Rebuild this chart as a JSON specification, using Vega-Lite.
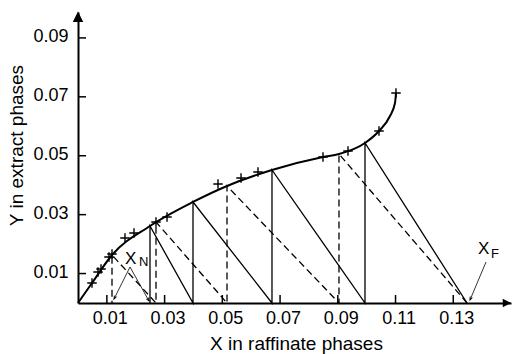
{
  "$schema": "https://vega.github.io/schema/vega-lite/v6.json",
  "width": 433,
  "height": 291,
  "autosize": {"type": "none"},
  "padding": {"left": 78, "top": 12, "right": 1, "bottom": 51},
  "background": "white",
  "config": {
    "view": {"stroke": null},
    "font": "Liberation Sans",
    "axis": {
      "grid": false,
      "ticks": false,
      "domainColor": "black",
      "domainWidth": 2,
      "labelColor": "black",
      "labelFont": "Liberation Sans",
      "labelFontSize": 18,
      "labelFlush": false,
      "titleColor": "black",
      "titleFont": "Liberation Sans",
      "titleFontSize": 19,
      "titleFontWeight": "normal"
    }
  },
  "datasets": {
    "curve": [
      {"x": 0, "y": 0},
      {"x": 0.00485, "y": 0.00679},
      {"x": 0.01178, "y": 0.0163},
      {"x": 0.02494, "y": 0.02615},
      {"x": 0.03984, "y": 0.0343},
      {"x": 0.05162, "y": 0.03973},
      {"x": 0.0672, "y": 0.04516},
      {"x": 0.08487, "y": 0.04958},
      {"x": 0.09041, "y": 0.05059},
      {"x": 0.09942, "y": 0.05433},
      {"x": 0.10427, "y": 0.0584},
      {"x": 0.10808, "y": 0.0635},
      {"x": 0.10981, "y": 0.06791},
      {"x": 0.11016, "y": 0.07131}
    ],
    "pts": [
      {"x": 0.00485, "y": 0.00679},
      {"x": 0.00693, "y": 0.01053},
      {"x": 0.00797, "y": 0.01154},
      {"x": 0.01074, "y": 0.01562},
      {"x": 0.01178, "y": 0.01664},
      {"x": 0.01628, "y": 0.02207},
      {"x": 0.0194, "y": 0.02377},
      {"x": 0.02702, "y": 0.0275},
      {"x": 0.03083, "y": 0.0292},
      {"x": 0.0485, "y": 0.04041},
      {"x": 0.05647, "y": 0.04244},
      {"x": 0.06235, "y": 0.04448},
      {"x": 0.08487, "y": 0.04958},
      {"x": 0.09353, "y": 0.05161},
      {"x": 0.10427, "y": 0.0584},
      {"x": 0.11016, "y": 0.07131}
    ],
    "solid": [
      {"o": 0, "x": 0.13476, "y": 0},
      {"o": 1, "x": 0.09942, "y": 0.05433},
      {"o": 2, "x": 0.09942, "y": 0},
      {"o": 3, "x": 0.0672, "y": 0.04516},
      {"o": 4, "x": 0.0672, "y": 0},
      {"o": 5, "x": 0.03984, "y": 0.0343},
      {"o": 6, "x": 0.03984, "y": 0},
      {"o": 7, "x": 0.02494, "y": 0.02615},
      {"o": 8, "x": 0.02494, "y": 0}
    ],
    "dashed": [
      {"o": 0, "x": 0.13476, "y": 0},
      {"o": 1, "x": 0.09041, "y": 0.05059},
      {"o": 2, "x": 0.09041, "y": 0},
      {"o": 3, "x": 0.05162, "y": 0.03973},
      {"o": 4, "x": 0.05162, "y": 0},
      {"o": 5, "x": 0.02702, "y": 0.0275},
      {"o": 6, "x": 0.02702, "y": 0},
      {"o": 7, "x": 0.01178, "y": 0.0163},
      {"o": 8, "x": 0.01178, "y": 0}
    ],
    "arrows": [
      {"name": "n1", "x": 0.01801, "y": 0.01222, "x2": 0.01247, "y2": 0.00136},
      {"name": "n2", "x": 0.01801, "y": 0.01222, "x2": 0.0246, "y2": 0.00068},
      {"name": "f", "x": 0.14134, "y": 0.01392, "x2": 0.1358, "y2": 0.00102}
    ],
    "labels": [
      {"t": "X", "x": 0.01628, "y": 0.01324},
      {"t": "X", "x": 0.13857, "y": 0.01664}
    ],
    "subs": [
      {"t": "N", "x": 0.02114, "y": 0.01256},
      {"t": "F", "x": 0.14307, "y": 0.01528}
    ],
    "xticks": [
      {"x": 0.01, "y": 0}, {"x": 0.03, "y": 0}, {"x": 0.05, "y": 0}, {"x": 0.07, "y": 0},
      {"x": 0.09, "y": 0}, {"x": 0.11, "y": 0}, {"x": 0.13, "y": 0}
    ],
    "yticks": [
      {"x": 0, "y": 0.01}, {"x": 0, "y": 0.03}, {"x": 0, "y": 0.05}, {"x": 0, "y": 0.07}, {"x": 0, "y": 0.09}
    ],
    "ytip": [{"x": 0, "y": 0.09715}],
    "xtip": [{"x": 0.1486, "y": 0}]
  },
  "encoding": {
    "x": {
      "field": "x",
      "type": "quantitative",
      "scale": {"domain": [0, 0.15], "nice": false, "zero": false},
      "axis": {
        "title": "X in raffinate phases",
        "values": [0.01, 0.03, 0.05, 0.07, 0.09, 0.11, 0.13],
        "format": ".2f",
        "labelPadding": 6,
        "labelOffset": 3,
        "titleX": 218,
        "titleY": 46,
        "titleAlign": "center",
        "titleBaseline": "alphabetic"
      }
    },
    "y": {
      "field": "y",
      "type": "quantitative",
      "scale": {"domain": [0, 0.0988], "nice": false, "zero": false},
      "axis": {
        "title": "Y in extract phases",
        "values": [0.01, 0.03, 0.05, 0.07, 0.09],
        "format": ".2f",
        "labelPadding": 10,
        "labelOffset": -1,
        "titleX": -56,
        "titleY": 133,
        "titleAngle": 270,
        "titleAlign": "center",
        "titleBaseline": "alphabetic"
      }
    }
  },
  "layer": [
    {
      "data": {"name": "curve"},
      "mark": {"type": "line", "interpolate": "monotone", "color": "black", "strokeWidth": 2}
    },
    {
      "data": {"name": "pts"},
      "mark": {"type": "point", "shape": "M-1,0H1M0,-1V1", "filled": false, "stroke": "black", "strokeWidth": 1.4, "size": 90, "opacity": 1}
    },
    {
      "data": {"name": "solid"},
      "mark": {"type": "line", "color": "black", "strokeWidth": 1.3},
      "encoding": {"order": {"field": "o", "type": "quantitative"}}
    },
    {
      "data": {"name": "dashed"},
      "mark": {"type": "line", "color": "black", "strokeWidth": 1.3, "strokeDash": [7, 4]},
      "encoding": {"order": {"field": "o", "type": "quantitative"}}
    },
    {
      "data": {"name": "xticks"},
      "mark": {"type": "tick", "orient": "vertical", "size": 8, "thickness": 1.5, "yOffset": -4, "color": "black", "opacity": 1}
    },
    {
      "data": {"name": "yticks"},
      "mark": {"type": "tick", "orient": "horizontal", "size": 8, "thickness": 1.5, "xOffset": 4, "color": "black", "opacity": 1}
    },
    {
      "data": {"name": "arrows"},
      "mark": {"type": "rule", "color": "black", "strokeWidth": 0.8},
      "encoding": {"x2": {"field": "x2"}, "y2": {"field": "y2"}}
    },
    {
      "data": {"name": "arrows"},
      "transform": [{"filter": "datum.name === 'n1'"}],
      "mark": {"type": "point", "shape": "M-0.6,1.6L0,0L0.6,1.6", "filled": false, "stroke": "black", "strokeWidth": 0.9, "size": 16, "angle": 206.6, "opacity": 1},
      "encoding": {"x": {"field": "x2", "type": "quantitative"}, "y": {"field": "y2", "type": "quantitative"}}
    },
    {
      "data": {"name": "arrows"},
      "transform": [{"filter": "datum.name === 'n2'"}],
      "mark": {"type": "point", "shape": "M-0.6,1.6L0,0L0.6,1.6", "filled": false, "stroke": "black", "strokeWidth": 0.9, "size": 16, "angle": 150.8, "opacity": 1},
      "encoding": {"x": {"field": "x2", "type": "quantitative"}, "y": {"field": "y2", "type": "quantitative"}}
    },
    {
      "data": {"name": "arrows"},
      "transform": [{"filter": "datum.name === 'f'"}],
      "mark": {"type": "point", "shape": "M-0.6,1.6L0,0L0.6,1.6", "filled": false, "stroke": "black", "strokeWidth": 0.9, "size": 16, "angle": 202.8, "opacity": 1},
      "encoding": {"x": {"field": "x2", "type": "quantitative"}, "y": {"field": "y2", "type": "quantitative"}}
    },
    {
      "data": {"name": "labels"},
      "mark": {"type": "text", "align": "left", "baseline": "alphabetic", "fontSize": 17, "font": "Liberation Sans", "color": "black"},
      "encoding": {"text": {"field": "t"}}
    },
    {
      "data": {"name": "subs"},
      "mark": {"type": "text", "align": "left", "baseline": "alphabetic", "fontSize": 13, "font": "Liberation Sans", "color": "black"},
      "encoding": {"text": {"field": "t"}}
    },
    {
      "data": {"name": "ytip"},
      "mark": {"type": "point", "shape": "M0,-1L1,1L-1,1Z", "filled": true, "color": "black", "size": 110, "opacity": 1}
    },
    {
      "data": {"name": "xtip"},
      "mark": {"type": "point", "shape": "M-1,-1L1,0L-1,1Z", "filled": true, "color": "black", "size": 70, "opacity": 1}
    }
  ]
}
